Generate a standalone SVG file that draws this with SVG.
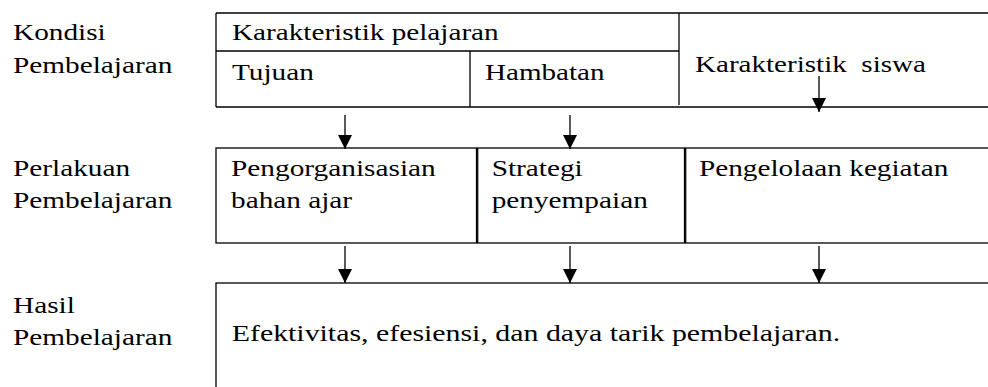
<svg xmlns="http://www.w3.org/2000/svg" width="988" height="387" viewBox="0 0 988 387" font-family="Liberation Serif, serif" font-size="24">
<defs>
<marker id="ad" viewBox="0 0 14 14" refX="7" refY="14" markerWidth="14" markerHeight="14" markerUnits="userSpaceOnUse" orient="0">
<path d="M0,0 L14,0 L7,14 Z" fill="#000"/>
</marker>
</defs>
<rect width="988" height="387" fill="#fff"/>
<g id="labels" font-family="Liberation Serif, serif">
<text transform="translate(13 40) scale(1.22 1)" font-family="Liberation Serif, serif">Kondisi</text>
<text transform="translate(13 73) scale(1.22 1)" font-family="Liberation Serif, serif">Pembelajaran</text>
<text transform="translate(13 175.5) scale(1.22 1)" font-family="Liberation Serif, serif">Perlakuan</text>
<text transform="translate(13 208) scale(1.22 1)" font-family="Liberation Serif, serif">Pembelajaran</text>
<text transform="translate(13 313) scale(1.22 1)" font-family="Liberation Serif, serif">Hasil</text>
<text transform="translate(13 345) scale(1.22 1)" font-family="Liberation Serif, serif">Pembelajaran</text>
</g>
<g id="kondisi" font-family="Liberation Serif, serif">
<path d="M216,13 H988 M216,13 V107 M216,51 H679 M470,51 V107 M679,13 V105 M216,107 H988" stroke="#000" stroke-width="1.3" fill="none"/>
<text transform="translate(232 40) scale(1.217 1)" font-family="Liberation Serif, serif">Karakteristik pelajaran</text>
<text transform="translate(232 79.5) scale(1.22 1)" font-family="Liberation Serif, serif">Tujuan</text>
<text transform="translate(485 79.5) scale(1.212 1)" font-family="Liberation Serif, serif">Hambatan</text>
<text transform="translate(695 71.7) scale(1.212 1)" font-family="Liberation Serif, serif">Karakteristik&#160; siswa</text>
</g>
<g id="pengorganisasian" font-family="Liberation Serif, serif">
<rect x="216" y="148" width="260.5" height="95" stroke="#000" stroke-width="1.3" fill="none"/>
<text transform="translate(231 175.5) scale(1.223 1)" font-family="Liberation Serif, serif">Pengorganisasian</text>
<text transform="translate(231 208) scale(1.22 1)" font-family="Liberation Serif, serif">bahan ajar</text>
</g>
<g id="strategi" font-family="Liberation Serif, serif">
<rect x="477.7" y="148" width="206.8" height="95" stroke="#000" stroke-width="1.3" fill="none"/>
<text transform="translate(491.7 175.5) scale(1.22 1)" font-family="Liberation Serif, serif">Strategi</text>
<text transform="translate(491.7 208) scale(1.22 1)" font-family="Liberation Serif, serif">penyempaian</text>
</g>
<g id="pengelolaan" font-family="Liberation Serif, serif">
<rect x="685.7" y="148" width="320" height="95" stroke="#000" stroke-width="1.3" fill="none"/>
<text transform="translate(699 175.5) scale(1.219 1)" font-family="Liberation Serif, serif">Pengelolaan kegiatan</text>
</g>
<g id="hasil" font-family="Liberation Serif, serif">
<rect x="216" y="283" width="800" height="150" stroke="#000" stroke-width="1.3" fill="none"/>
<text transform="translate(231.7 341) scale(1.245 1)" font-family="Liberation Serif, serif">Efektivitas, efesiensi, dan daya tarik pembelajaran.</text>
</g>
<g id="connectors" stroke="#000" stroke-width="1.3">
<line x1="345" y1="115" x2="345" y2="149" marker-end="url(#ad)"/>
<line x1="570" y1="115" x2="570" y2="149" marker-end="url(#ad)"/>
<line x1="819" y1="76" x2="819" y2="112" marker-end="url(#ad)"/>
<line x1="345" y1="246" x2="345" y2="283" marker-end="url(#ad)"/>
<line x1="570" y1="246" x2="570" y2="283" marker-end="url(#ad)"/>
<line x1="819" y1="246" x2="819" y2="283" marker-end="url(#ad)"/>
</g>
</svg>
